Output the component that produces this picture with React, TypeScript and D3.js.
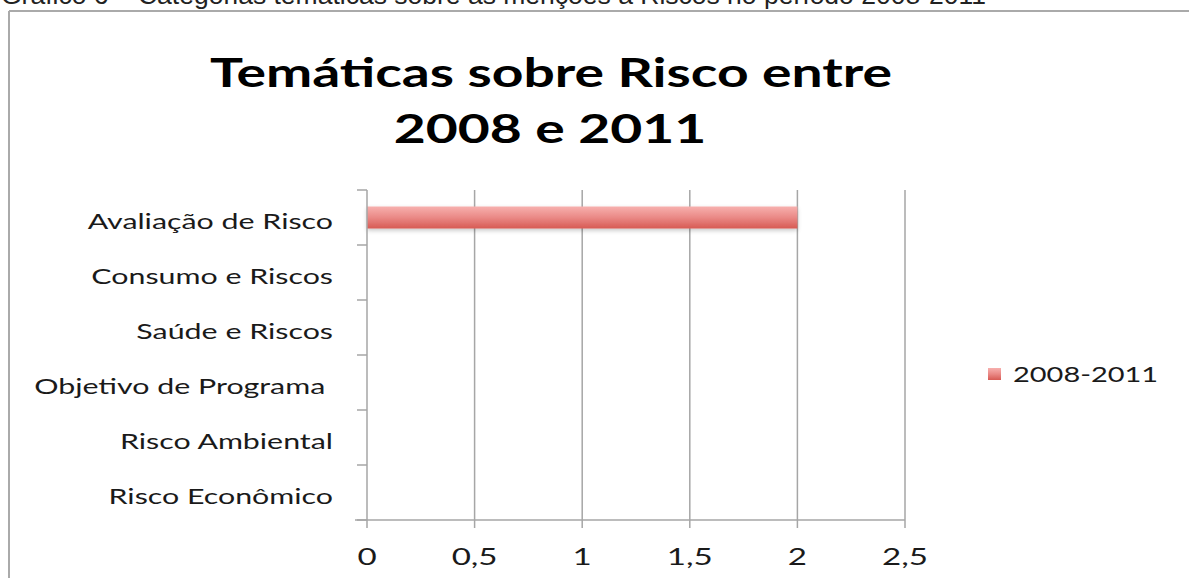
import React from "react";
import * as d3 from "d3";

const categories = [
  "Avaliação de Risco",
  "Consumo e Riscos",
  "Saúde e Riscos",
  "Objetivo de Programa ",
  "Risco Ambiental",
  "Risco Econômico",
];
const values = [2, 0, 0, 0, 0, 0];
const xTicks = [0, 0.5, 1, 1.5, 2, 2.5];
const xTickLabels = ["0", "0,5", "1", "1,5", "2", "2,5"];
const seriesName = "2008-2011";
const titleLines = ["Temáticas sobre Risco entre", "2008 e 2011"];
const caption = "Gráfico 6 – Categorias temáticas sobre as menções a Riscos no período 2008-2011";

const W = 1189;
const H = 578;
const FONT = "Lato, sans-serif";
const SX = 1.38;

function SText(props: {
  x: number;
  y: number;
  anchor?: "start" | "middle" | "end";
  size: number;
  bold?: boolean;
  fill?: string;
  children: React.ReactNode;
}) {
  return (
    <text
      transform={`translate(${props.x},${props.y}) scale(${SX},1)`}
      textAnchor={props.anchor || "start"}
      fontFamily={FONT}
      fontSize={props.size}
      fontWeight={props.bold ? "bold" : "normal"}
      fill={props.fill || "#1a1a1a"}
      style={{ whiteSpace: "pre" }}
    >
      {props.children}
    </text>
  );
}

export default function App() {
  const x = d3.scaleLinear().domain([0, 2.5]).range([367, 905]);
  const y = d3
    .scaleBand<string>()
    .domain(categories)
    .range([190, 520])
    .paddingInner(0.6)
    .paddingOuter(0.3);
  const step = y.step();
  const top = 190;
  const bottom = 520;
  const boundaries = d3.range(categories.length + 1).map((i) => top + i * step);

  return (
    <svg
      width={W}
      height={H}
      style={{ position: "absolute", left: 0, top: 0, background: "#fff" }}
    >
      <defs>
        <linearGradient id="barGrad" x1="0" y1="0" x2="0" y2="1">
          <stop offset="0" stopColor="#f7b0ae" />
          <stop offset="0.5" stopColor="#ea8986" />
          <stop offset="1" stopColor="#d75a54" />
        </linearGradient>
        <filter id="shadow" x="-5%" y="-50%" width="110%" height="200%">
          <feDropShadow dx="0" dy="2" stdDeviation="2" floodColor="#000" floodOpacity="0.22" />
        </filter>
      </defs>

      {/* caption cut at top */}
      <text x={1} y={4} fontFamily="'Liberation Sans', Arial, sans-serif" fontSize={26.5} fill="#222">
        {caption}
      </text>

      {/* frame */}
      <line x1={9} y1={11} x2={W} y2={11} stroke="#aaa" strokeWidth={2} />
      <line x1={9} y1={11} x2={9} y2={H} stroke="#aaa" strokeWidth={2} />

      {/* title */}
      <SText x={551} y={87} anchor="middle" size={40} bold fill="#000">
        {titleLines[0]}
      </SText>
      <SText x={550} y={143} anchor="middle" size={40} bold fill="#000">
        {titleLines[1]}
      </SText>

      {/* gridlines */}
      {xTicks.slice(1).map((t) => (
        <line key={"g" + t} x1={x(t)} x2={x(t)} y1={top} y2={bottom} stroke="#a6a6a6" strokeWidth={1.5} />
      ))}

      {/* bars */}
      {values.map((v, i) => (
        <rect
          key={categories[i]}
          x={x(0)}
          y={y(categories[i])}
          width={x(v) - x(0)}
          height={y.bandwidth()}
          fill="url(#barGrad)"
          filter="url(#shadow)"
        />
      ))}

      {/* category axis */}
      <line x1={x(0)} x2={x(0)} y1={top} y2={bottom} stroke="#a6a6a6" strokeWidth={1.5} />
      {boundaries.map((b, i) => (
        <line key={"ct" + i} x1={357} x2={x(0)} y1={b} y2={b} stroke="#a6a6a6" strokeWidth={1.5} />
      ))}
      {categories.map((c) => (
        <SText key={"cl" + c} x={333} y={(y(c) as number) + y.bandwidth() / 2 + 11.5} anchor="end" size={22}>
          {c}
        </SText>
      ))}

      {/* value axis */}
      <line x1={355} x2={x(2.5)} y1={bottom} y2={bottom} stroke="#a6a6a6" strokeWidth={1.5} />
      {xTicks.map((t, i) => (
        <g key={"xt" + t}>
          <line x1={x(t)} x2={x(t)} y1={bottom} y2={bottom + 8} stroke="#a6a6a6" strokeWidth={1.5} />
          <SText x={x(t)} y={565} anchor="middle" size={24}>
            {xTickLabels[i]}
          </SText>
        </g>
      ))}

      {/* legend */}
      <rect x={988} y={368} width={13} height={12} fill="url(#barGrad)" />
      <SText x={1013} y={382} size={21}>
        {seriesName}
      </SText>
    </svg>
  );
}
